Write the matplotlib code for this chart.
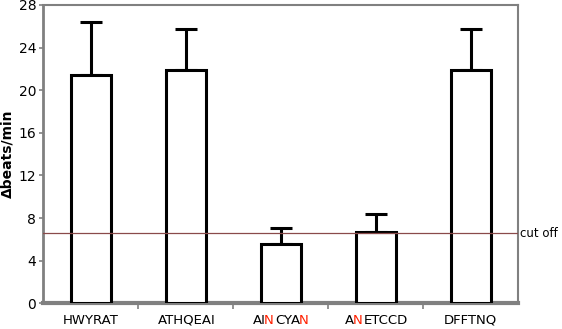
import matplotlib
matplotlib.use("Agg")
import numpy as np
import matplotlib.pyplot as plt
from matplotlib.font_manager import FontProperties
from matplotlib.textpath import TextPath

peptides = ["HWYRAT", "ATHQEAI", "AINCYAN", "ANETCCD", "DFFTNQ"]
# label pieces: (text, highlighted?)
label_parts = [
    [("HWYRAT", False)],
    [("ATHQEAI", False)],
    [("AI", False), ("N", True), ("CYA", False), ("N", True)],
    [("A", False), ("N", True), ("ETCCD", False)],
    [("DFFTNQ", False)],
]
means = [21.4, 21.9, 5.6, 6.7, 21.9]
errs = [5.0, 3.8, 1.5, 1.7, 3.8]
cutoff = 6.6
yticks = [0, 4, 8, 12, 16, 20, 24, 28]

plt.rcParams['font.family'] = ['DejaVu Sans']

fig = plt.figure(figsize=(5.62, 3.29), dpi=100)
ax = fig.add_axes([0.077, 0.078, 0.845, 0.907])

x = list(range(len(peptides)))
ax.bar(x, means, width=0.42, color="white", edgecolor="black", linewidth=2.2, zorder=3)
ax.errorbar(x, means, yerr=[[0] * len(errs), errs], fmt="none", ecolor="black",
            elinewidth=2.2, capsize=8, capthick=2.2, zorder=2)

ax.axhline(cutoff, color="#8a4a4a", linewidth=0.9, zorder=4)
ax.text(1.004, cutoff, "cut off", transform=ax.get_yaxis_transform(),
        va="center", ha="left", fontsize=8.5)

ax.set_xlim(-0.5, 4.5)
ax.set_ylim(0, 28)
ax.set_yticks(yticks)
ax.tick_params(axis="y", labelsize=10, length=3, color="gray", width=1.2, pad=2)
ax.set_xticks([0.5, 1.5, 2.5, 3.5])
ax.set_xticklabels([])
ax.tick_params(axis="x", length=4, color="gray", width=1.2)

for side in ["top", "right"]:
    ax.spines[side].set_color("gray")
    ax.spines[side].set_linewidth(1.5)
ax.spines["left"].set_color("gray")
ax.spines["left"].set_linewidth(2)
ax.spines["bottom"].set_color("gray")
ax.spines["bottom"].set_linewidth(3)

ax.set_ylabel("Δbeats/min", fontsize=10, fontweight="bold", labelpad=3)

# x labels with coloured letters: real text runs, placed from glyph metrics
fs = 9.5
fp = FontProperties(family="DejaVu Sans")
px_per_pt = fig.dpi / 72.0


def ext(s):
    return TextPath((0, 0), s, size=fs, prop=fp).get_extents()


def advance(s):
    # pen position after s (points), measured with a trailing bar glyph
    if not s:
        return 0.0
    return ext(s + "|").x1 - ext("|").x1


def ink_shift(s):
    # where the ink starts (px) when s is drawn with ha="left" at a pixel
    f2 = plt.figure(figsize=(2, 0.5), dpi=fig.dpi)
    f2.text(0.1, 0.5, s, fontsize=fs, ha="left", va="center", family="DejaVu Sans")
    f2.canvas.draw()
    a = np.asarray(f2.canvas.buffer_rgba())[:, :, 0]
    plt.close(f2)
    cols = np.where((a < 200).any(axis=0))[0]
    return cols[0] - 20 if len(cols) else 0


for i, parts in enumerate(label_parts):
    full = "".join(p for p, _ in parts)
    e = ext(full)
    pen0 = -(e.x0 + e.x1) / 2 * px_per_pt  # pen origin of first glyph, px from tick
    prefix = ""
    for txt, hl in parts:
        ink = (advance(prefix) + ext(txt[0]).x0) * px_per_pt
        anchor = pen0 + ink - ink_shift(txt)
        if hl:
            anchor -= 1.5  # red letters sat a little loose on the left
        ax.annotate(txt, xy=(i, 0), xycoords=ax.get_xaxis_transform(),
                    xytext=(anchor / px_per_pt, -12), textcoords="offset points",
                    ha="left", va="center", fontsize=fs,
                    color="#ff2000" if hl else "black", annotation_clip=False)
        prefix += txt

fig.savefig("out.png", dpi=100)
